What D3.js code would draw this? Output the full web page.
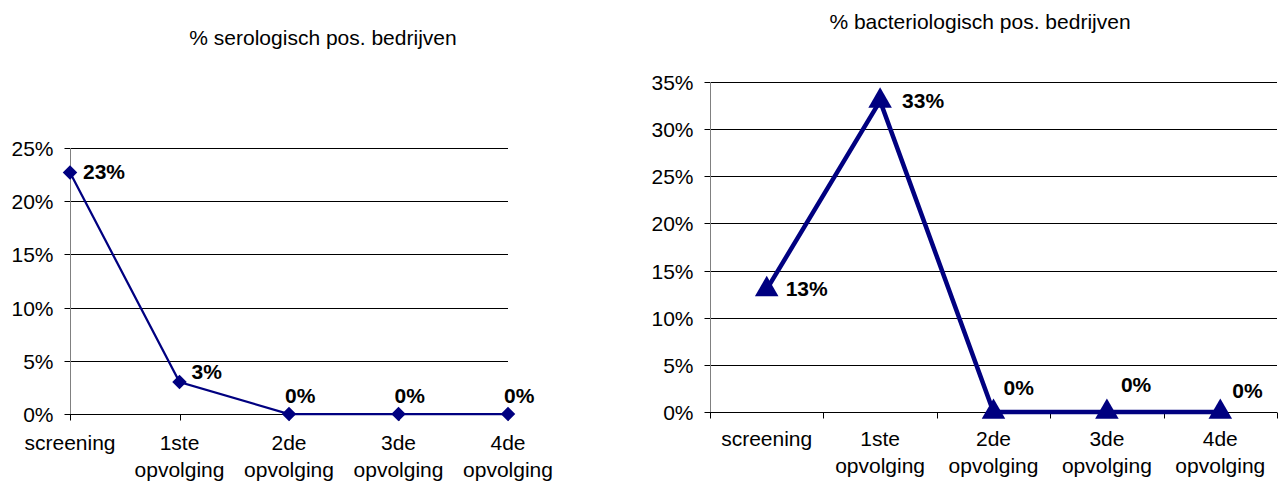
<!DOCTYPE html>
<html>
<head>
<meta charset="utf-8">
<script src="https://cdn.jsdelivr.net/npm/d3@7"></script>
<style>
  body { margin: 0; background: #fff; }
  svg text { font-family: Arial, "Liberation Sans", sans-serif; fill: #000; }
  .lbl { font-weight: bold; }
</style>
</head>
<body>
<script>
'use strict';

var width = 1285,
    height = 483,
    navy = "#000080",
    fs = "21px";

// categories, shared by both charts
var categories = [
  ["screening"],
  ["1ste", "opvolging"],
  ["2de", "opvolging"],
  ["3de", "opvolging"],
  ["4de", "opvolging"]
];

// % serologisch pos. bedrijven
var seroValues = [0.227, 0.03, 0, 0, 0];
var seroTicks = [0, 0.05, 0.10, 0.15, 0.20, 0.25];

// % bacteriologisch pos. bedrijven
var bactValues = [0.13, 0.33, 0, 0, 0];
var bactTicks = [0, 0.05, 0.10, 0.15, 0.20, 0.25, 0.30, 0.35];

var pct = d3.format(".0%");

var svg = d3.select("body").append("svg")
  .attr("width", width)
  .attr("height", height);

function drawChart(o) {
  var g = svg.append("g");

  var y = d3.scaleLinear()
    .domain([0, d3.max(o.ticks)])
    .range([o.bottom, o.top]);

  // x: points on the ticks (left) or in the middle of bands (right)
  var x, tickXs;
  if (o.between) {
    var band = d3.scaleBand().domain(d3.range(categories.length)).range([o.left, o.right]);
    x = function(i) { return band(i) + band.bandwidth() / 2; };
    tickXs = d3.range(categories.length + 1).map(function(i) { return o.left + i * band.step(); });
  } else {
    var pt = d3.scalePoint().domain(d3.range(categories.length)).range([o.left, o.right]);
    x = pt;
    tickXs = d3.range(categories.length).map(pt);
  }

  // title
  g.append("text")
    .attr("x", o.titleX)
    .attr("y", o.titleY)
    .attr("text-anchor", "middle")
    .style("font-size", fs)
    .text(o.title);

  // gridlines
  g.selectAll("line.grid")
    .data(o.ticks.filter(function(t) { return t > 0; }))
    .enter().append("line")
    .attr("class", "grid")
    .attr("x1", o.left).attr("x2", o.right)
    .attr("y1", function(d) { return Math.round(y(d)) + 0.5; })
    .attr("y2", function(d) { return Math.round(y(d)) + 0.5; })
    .attr("stroke", "#000")
    .attr("stroke-width", 1);

  // y axis
  var yAxis = d3.axisLeft(y)
    .tickValues(o.ticks)
    .tickFormat(pct)
    .tickSize(6)
    .tickPadding(11);
  var ya = g.append("g")
    .attr("transform", "translate(" + (Math.round(o.left) + 0.5) + ",0)")
    .call(yAxis);
  ya.select(".domain").remove();
  ya.selectAll(".tick line").attr("stroke", "#000");
  ya.selectAll(".tick").attr("transform", function(d) {
    return "translate(0," + (Math.round(y(d)) + 0.5) + ")";
  });
  ya.selectAll(".tick text")
    .attr("font-family", null)
    .style("font-size", fs)
    .attr("dy", "0.36em");
  g.append("line")
    .attr("x1", Math.round(o.left) + 0.5).attr("x2", Math.round(o.left) + 0.5)
    .attr("y1", y(d3.max(o.ticks))).attr("y2", o.bottom + 6)
    .attr("stroke", "#808080");

  // x axis line + ticks
  var y0 = Math.round(y(0)) + 0.5;
  g.append("line")
    .attr("x1", o.left).attr("x2", o.right)
    .attr("y1", y0).attr("y2", y0)
    .attr("stroke", "#000");
  g.selectAll("line.xtick")
    .data(tickXs)
    .enter().append("line")
    .attr("class", "xtick")
    .attr("x1", function(d) { return Math.round(d) + 0.5; })
    .attr("x2", function(d) { return Math.round(d) + 0.5; })
    .attr("y1", y0).attr("y2", y0 + 6)
    .attr("stroke", "#000");

  // category labels
  var cl = g.selectAll("text.cat")
    .data(categories)
    .enter().append("text")
    .attr("class", "cat")
    .attr("text-anchor", "middle")
    .style("font-size", fs)
    .attr("y", o.catY);
  cl.each(function(lines, i) {
    var t = d3.select(this);
    lines.forEach(function(s, k) {
      t.append("tspan")
        .attr("x", x(i))
        .attr("y", o.catY + k * 27)
        .text(s);
    });
  });

  // line
  var line = d3.line()
    .x(function(d, i) { return x(i); })
    .y(function(d) { return y(d); });
  g.append("path")
    .datum(o.values)
    .attr("d", line)
    .attr("fill", "none")
    .attr("stroke", navy)
    .attr("stroke-width", o.lineWidth)
    .attr("stroke-linejoin", "miter");

  // markers
  g.selectAll("path.mark")
    .data(o.values)
    .enter().append("path")
    .attr("class", "mark")
    .attr("d", d3.symbol().type(o.symbol).size(o.symbolSize))
    .attr("transform", function(d, i) {
      return "translate(" + x(i) + "," + y(d) + ") rotate(" + o.symbolRotate + ")";
    })
    .attr("fill", navy);

  // data labels
  g.selectAll("text.lbl")
    .data(o.values)
    .enter().append("text")
    .attr("class", "lbl")
    .style("font-size", fs)
    .attr("x", function(d, i) { return x(i) + o.labelOffsets[i][0]; })
    .attr("y", function(d, i) { return y(d) + o.labelOffsets[i][1]; })
    .text(function(d) { return pct(d); });
}

drawChart({
  title: "% serologisch pos. bedrijven",
  titleX: 323, titleY: 45,
  values: seroValues,
  ticks: seroTicks,
  left: 70, right: 508, top: 148, bottom: 414,
  between: false,
  catY: 450,
  lineWidth: 2.25,
  symbol: d3.symbolSquare, symbolSize: 105, symbolRotate: 45,
  labelOffsets: [[13, 7], [12, -3], [-4, -11], [-4, -11], [-4, -11]]
});

drawChart({
  title: "% bacteriologisch pos. bedrijven",
  titleX: 980, titleY: 29,
  values: bactValues,
  ticks: bactTicks,
  left: 710, right: 1277, top: 82, bottom: 412,
  between: true,
  catY: 446,
  lineWidth: 4.5,
  symbol: d3.symbolTriangle, symbolSize: 240, symbolRotate: 0,
  labelOffsets: [[19, 7], [22, 7], [10, -17], [14, -20], [12, -14]]
});
</script>
</body>
</html>
